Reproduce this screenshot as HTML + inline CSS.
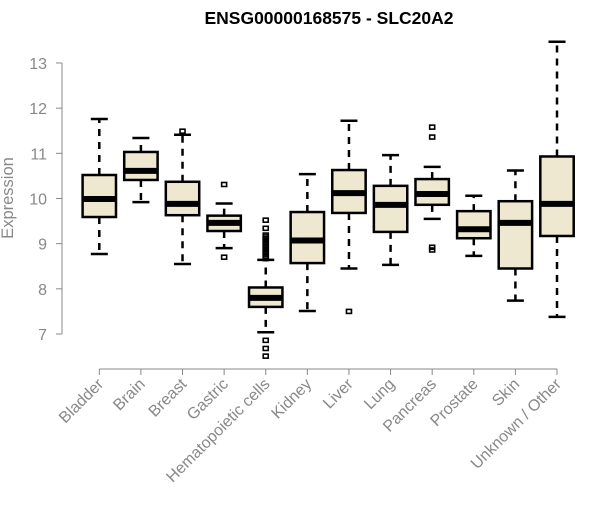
<!DOCTYPE html>
<html><head><meta charset="utf-8"><style>
body{margin:0;background:#fff;}
svg text{font-family:"Liberation Sans",Arial,sans-serif;}
</style></head><body>
<svg id="chart" width="600" height="500" xmlns="http://www.w3.org/2000/svg">
<text x="329" y="24" text-anchor="middle" font-size="17.5" font-weight="bold" fill="#000">ENSG00000168575 - SLC20A2</text>
<text transform="translate(13,198) rotate(-90)" text-anchor="middle" font-size="16.5" fill="#888">Expression</text>
<g id="axes"></g><g id="boxes"></g>
</svg>
<script>
const categories=["Bladder","Brain","Breast","Gastric","Hematopoietic cells","Kidney","Liver","Lung","Pancreas","Prostate","Skin","Unknown / Other"];
const lowWhisker=[8.77,9.92,8.55,8.90,7.04,7.51,8.45,8.53,9.55,8.73,7.74,7.38];
const q1=[9.59,10.41,9.63,9.28,7.60,8.57,9.68,9.26,9.86,9.12,8.45,9.17];
const medians=[9.99,10.61,9.88,9.46,7.80,9.07,10.12,9.86,10.10,9.32,9.46,9.88];
const q3=[10.52,11.03,10.37,9.62,8.03,9.70,10.63,10.28,10.43,9.72,9.94,10.93];
const highWhisker=[11.76,11.34,11.41,9.89,8.64,10.54,11.72,10.96,10.70,10.06,10.62,13.47];
const outliers=[[],[],[11.49],[10.31,8.70],[9.52,9.34,9.19,9.15,9.11,9.07,9.03,8.99,8.95,8.91,8.87,8.83,8.79,8.75,8.71,8.67,6.86,6.68,6.51],[],[7.50],[],[11.58,11.36,8.92,8.86],[],[],[]];
const yTicks=[7,8,9,10,11,12,13];
const NS="http://www.w3.org/2000/svg";
const y=v=>334-(v-7)*45.17;
const x=i=>99.3+i*41.61;
function mk(parent,tag,attrs){const e=document.createElementNS(NS,tag);for(const k in attrs)e.setAttribute(k,attrs[k]);parent.appendChild(e);return e;}
const axes=document.getElementById('axes'),boxes=document.getElementById('boxes');
let a=mk(axes,'line',{x1:62,x2:62,y1:y(13),y2:y(7),stroke:'#888'});


yTicks.forEach(t=>{
 let l=mk(axes,'line',{x1:56,x2:62,y1:y(t),y2:y(t),stroke:'#888'});
 
 
 let tx=mk(axes,'text',{x:47,y:y(t)+6,'text-anchor':'end','font-size':16,fill:'#888'});tx.textContent=t;
 
 
});
let xa=mk(axes,'line',{x1:x(0),x2:x(11),y1:369,y2:369,stroke:'#888'});


categories.forEach((c,i)=>{
 let l=mk(axes,'line',{x1:x(i),x2:x(i),y1:369,y2:375,stroke:'#888'});
 
 
 let tx=mk(axes,'text',{transform:`translate(${x(i)+5},${385}) rotate(-45)`,'text-anchor':'end','font-size':16,fill:'#888'});tx.textContent=c;
 
 
 const g=mk(boxes,'g',{});
 
 
 const cx=x(i),hw=16.7,cw=8.5;
 mk(g,'line',{x1:cx,x2:cx,y1:y(q3[i]),y2:y(highWhisker[i]),stroke:'#000','stroke-width':2.5,'stroke-dasharray':'7,6'});
 mk(g,'line',{x1:cx,x2:cx,y1:y(q1[i]),y2:y(lowWhisker[i]),stroke:'#000','stroke-width':2.5,'stroke-dasharray':'7,6'});
 mk(g,'line',{x1:cx-cw,x2:cx+cw,y1:y(highWhisker[i]),y2:y(highWhisker[i]),stroke:'#000','stroke-width':2.5});
 mk(g,'line',{x1:cx-cw,x2:cx+cw,y1:y(lowWhisker[i]),y2:y(lowWhisker[i]),stroke:'#000','stroke-width':2.5});
 mk(g,'rect',{x:cx-hw,y:y(q3[i]),width:2*hw,height:y(q1[i])-y(q3[i]),fill:'#ede8cf',stroke:'#000','stroke-width':2.5});
 mk(g,'line',{x1:cx-hw,x2:cx+hw,y1:y(medians[i]),y2:y(medians[i]),stroke:'#000','stroke-width':6});
 outliers[i].forEach(o=>{
  let p=mk(g,'rect',{x:cx-2.5,y:y(o)-2,width:5,height:4,fill:'none',stroke:'#000','stroke-width':1.6});
  
  
 });
});
</script>
</body></html>
